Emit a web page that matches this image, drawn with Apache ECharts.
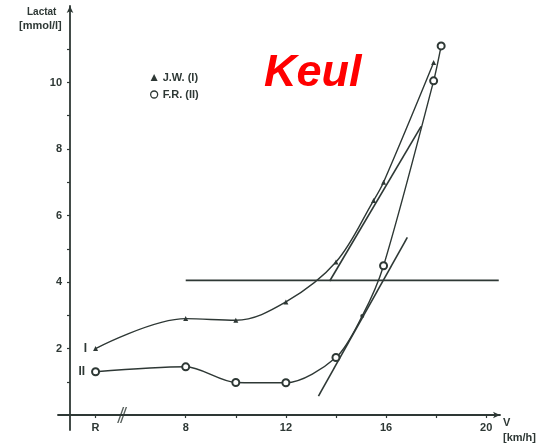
<!DOCTYPE html>
<html>
<head>
<meta charset="utf-8">
<script src="https://cdn.jsdelivr.net/npm/echarts@6/dist/echarts.min.js"></script>
<style>html,body{margin:0;padding:0;background:#fff;}#c{width:547px;height:447px;}</style>
</head>
<body>
<div id="c"></div>
<script>
// ---- data ----
const xTickValues = [4.4, 8, 10, 12, 14, 16, 18, 20];
const xLabelValues = [4.4, 8, 12, 16, 20];
const xLabelTexts = ['R', '8', '12', '16', '20'];
const yTickValues = [1, 2, 3, 4, 5, 6, 7, 8, 9, 10, 11];
const yLabelValues = [2, 4, 6, 8, 10];

const jwName = 'J.W. (I)';
const jwX = [4.4, 8, 10, 12, 14, 15.5, 15.9, 17.9];
const jwY = [2.0, 2.9, 2.85, 3.4, 4.6, 6.45, 7.0, 10.6];

const frName = 'F.R. (II)';
const frX = [4.4, 8, 10, 12, 14, 15.05, 15.9, 17.9, 18.2];
const frY = [1.3, 1.45, 0.98, 0.97, 1.73, 2.98, 4.49, 10.05, 11.1];

const thresholdX = [8, 20.5];
const thresholdY = 4.05;
const jwTangentX = [13.75, 17.4];
const jwTangentY = [4.03, 8.68];
const frTangentX = [13.3, 16.85];
const frTangentY = [0.57, 5.34];
const breakX = 5.46;

// ---- styling ----
const ink = '#2e3835';
const font = '"Liberation Sans", Arial, sans-serif';

const jwData = jwX.map((x, i) => {
  const d = { value: [x, jwY[i]] };
  if (i === 0) d.label = { show: true, formatter: 'I', position: 'left', distance: 6, color: ink, fontSize: 12, fontWeight: 'bold', fontFamily: font };
  return d;
});
const frData = frX.map((x, i) => {
  const d = { value: [x, frY[i]] };
  if (i === 0) d.label = { show: true, formatter: 'II', position: 'left', distance: 6, color: ink, fontSize: 12, fontWeight: 'bold', fontFamily: font };
  if (i === 5) { d.symbol = 'circle'; d.symbolSize = 4; d.itemStyle = { color: ink, borderWidth: 0 }; }
  return d;
});

const chart = echarts.init(document.getElementById('c'), null, { renderer: 'canvas' });
chart.setOption({
  animation: false,
  backgroundColor: '#ffffff',
  grid: { left: 58, right: 47, top: 6, bottom: 17, containLabel: false },
  legend: {
    orient: 'vertical', left: 145, top: 67, itemGap: 6, itemWidth: 7, itemHeight: 7,
    textStyle: { color: ink, fontSize: 11, fontWeight: 'bold', fontFamily: font },
    data: [
      { name: jwName, icon: 'triangle', itemStyle: { color: ink } },
      { name: frName, icon: 'circle', itemStyle: { color: '#ffffff', borderColor: ink, borderWidth: 1.3 } }
    ]
  },
  xAxis: {
    type: 'value', min: 2.9, max: 20.55,
    axisLine: { show: true, onZero: true, lineStyle: { color: ink, width: 1.8 }, symbol: ['none', 'arrow'], symbolSize: [5, 7] },
    axisTick: { show: true, customValues: xTickValues, length: 3, inside: false, lineStyle: { color: ink, width: 1.2 } },
    axisLabel: {
      show: true, customValues: xLabelValues, margin: -8,
      formatter: v => { const i = xLabelValues.findIndex(t => Math.abs(t - v) < 1e-6); return i >= 0 ? xLabelTexts[i] : ''; },
      color: ink, fontSize: 11, fontWeight: 'bold', fontFamily: font
    },
    splitLine: { show: false }
  },
  yAxis: {
    type: 'value', min: -0.45, max: 12.3, offset: -12,
    axisLine: { show: true, onZero: false, lineStyle: { color: ink, width: 1.8 }, symbol: ['none', 'arrow'], symbolSize: [5, 7] },
    axisTick: { show: true, customValues: yTickValues, length: 3, inside: false, lineStyle: { color: ink, width: 1.2 } },
    axisLabel: { show: true, customValues: yLabelValues, margin: 8, color: ink, fontSize: 11, fontWeight: 'bold', fontFamily: font },
    splitLine: { show: false }
  },
  graphic: [
    { type: 'text', left: 264, top: 51, style: { text: 'Keul', fill: '#ff0000', font: 'italic bold 45px ' + font } },
    { type: 'text', left: 27, top: 7, style: { text: 'Lactat', fill: ink, font: 'bold 10px ' + font } },
    { type: 'text', left: 19, top: 20, style: { text: '[mmol/l]', fill: ink, font: 'bold 11px ' + font } },
    { type: 'text', left: 503, top: 417, style: { text: 'V', fill: ink, font: 'bold 11px ' + font } },
    { type: 'text', left: 503, top: 432, style: { text: '[km/h]', fill: ink, font: 'bold 11px ' + font } }
  ],
  series: [
    {
      name: jwName, type: 'line', smooth: 0.35, data: jwData,
      symbol: 'triangle', symbolSize: 5, showSymbol: true,
      lineStyle: { color: ink, width: 1.4 }, itemStyle: { color: ink }, z: 3
    },
    {
      name: frName, type: 'line', smooth: 0.3, data: frData,
      symbol: 'emptyCircle', symbolSize: 7, showSymbol: true,
      lineStyle: { color: ink, width: 1.4 }, itemStyle: { color: ink, borderColor: ink, borderWidth: 1.2 }, z: 3
    },
    {
      name: 'threshold', type: 'line', data: thresholdX.map(x => [x, thresholdY]),
      symbol: 'none', lineStyle: { color: ink, width: 1.6 }, z: 2
    },
    {
      name: 'jwTangent', type: 'line', data: jwTangentX.map((x, i) => [x, jwTangentY[i]]),
      symbol: 'none', lineStyle: { color: ink, width: 1.6 }, z: 2
    },
    {
      name: 'frTangent', type: 'line', data: frTangentX.map((x, i) => [x, frTangentY[i]]),
      symbol: 'none', lineStyle: { color: ink, width: 1.6 }, z: 2
    },
    {
      name: 'axisBreak', type: 'scatter', data: [[breakX, 0]],
      symbol: 'path://M0,16 L6,0 L7.5,0 L1.5,16 Z M3,16 L9,0 L10.5,0 L4.5,16 Z',
      symbolSize: [10, 16], itemStyle: { color: ink }, z: 5, silent: true
    }
  ]
});
</script>
</body>
</html>
